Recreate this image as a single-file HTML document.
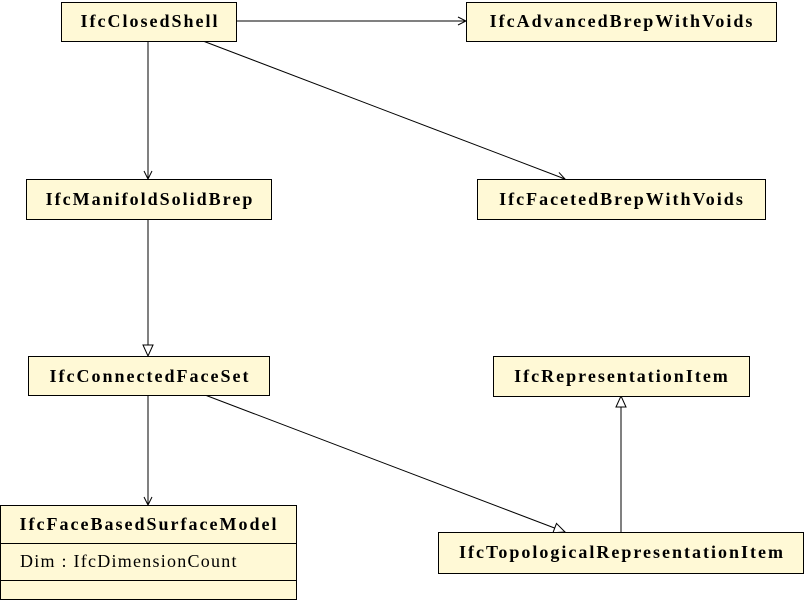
<!DOCTYPE html>
<html><head><meta charset="utf-8"><style>
body{margin:0;width:804px;height:600px;background:#fff;overflow:hidden}
svg{display:block}
text{font-family:"Liberation Serif",serif;font-size:18px;fill:#000}
.b{font-weight:bold;text-anchor:middle;letter-spacing:2px}
.n{letter-spacing:1.25px}
rect{fill:#fff9d6;stroke:#000;stroke-width:1}
line{stroke:#000;stroke-width:1}
</style></head><body>
<svg width="804" height="600" viewBox="0 0 804 600">
<defs>
<marker id="o" markerWidth="10" markerHeight="10" refX="9" refY="5" orient="auto" markerUnits="userSpaceOnUse"><path d="M1,1 L9,5 L1,9" fill="none" stroke="#000"/></marker>
<marker id="t" markerWidth="14" markerHeight="14" refX="12" refY="6" orient="auto" markerUnits="userSpaceOnUse"><path d="M1,1 L12,6 L1,11 Z" fill="#fff" stroke="#000"/></marker>
</defs>
<line x1="236" y1="21" x2="466" y2="21" marker-end="url(#o)"/>
<line x1="148" y1="41" x2="148" y2="179" marker-end="url(#o)"/>
<line x1="203" y1="41" x2="565" y2="179" marker-end="url(#o)"/>
<line x1="148" y1="219" x2="148" y2="356" marker-end="url(#t)"/>
<line x1="148" y1="395" x2="148" y2="505" marker-end="url(#o)"/>
<line x1="205" y1="395" x2="565" y2="532" marker-end="url(#t)"/>
<line x1="621" y1="532" x2="621" y2="396" marker-end="url(#t)"/>
<rect x="61.5" y="2.5" width="175" height="39"/><text class="b" x="150" y="27">IfcClosedShell</text>
<rect x="466.5" y="2.5" width="310" height="39"/><text class="b" x="622" y="27">IfcAdvancedBrepWithVoids</text>
<rect x="26.5" y="179.5" width="245" height="40"/><text class="b" x="150" y="205">IfcManifoldSolidBrep</text>
<rect x="477.5" y="179.5" width="288" height="40"/><text class="b" x="622" y="205">IfcFacetedBrepWithVoids</text>
<rect x="28.5" y="356.5" width="241" height="39"/><text class="b" x="150" y="382">IfcConnectedFaceSet</text>
<rect x="493.5" y="356.5" width="256" height="40"/><text class="b" x="622" y="382">IfcRepresentationItem</text>
<rect x="0.5" y="505.5" width="296" height="94"/>
<line x1="0" y1="543.5" x2="297" y2="543.5"/><line x1="0" y1="580.5" x2="297" y2="580.5"/>
<text class="b" x="149" y="530">IfcFaceBasedSurfaceModel</text>
<text class="n" x="20" y="567">Dim : IfcDimensionCount</text>
<rect x="438.5" y="532.5" width="365" height="41"/><text class="b" x="622" y="558">IfcTopologicalRepresentationItem</text>
</svg>
</body></html>
